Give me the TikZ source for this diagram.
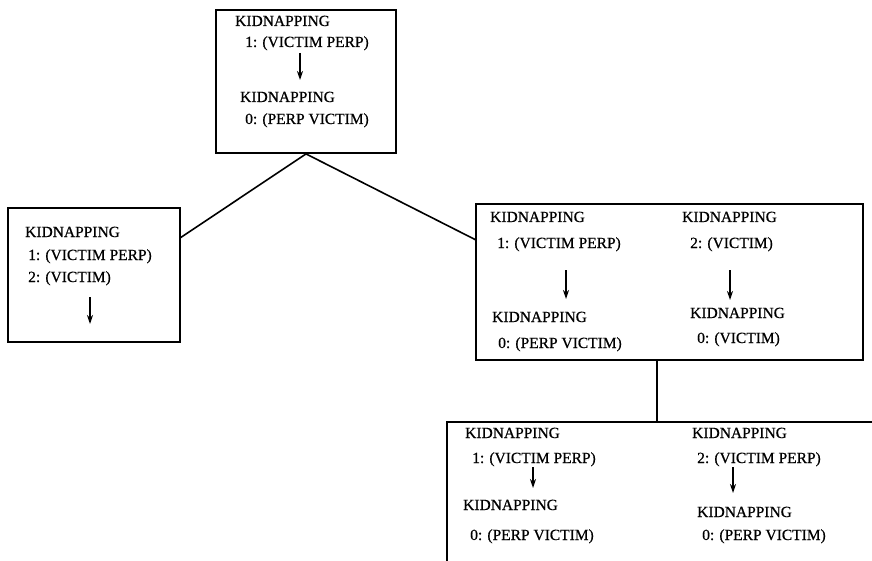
\documentclass[tikz,border=0pt]{standalone}
\usepackage{fontspec}
\setmainfont{Liberation Serif}
\newfontfamily\scanfont[FakeBold=0.6]{Liberation Serif}
\usetikzlibrary{arrows.meta}
\begin{document}
\begin{tikzpicture}[x=1pt,y=-1pt,
  txt/.style={anchor=base west,inner sep=0pt,font=\scanfont\fontsize{15.5}{17}\selectfont},
  boxframe/.style={draw,line width=1.8pt},
  conn/.style={line width=1.6pt},
  down/.style={line width=1.3pt,-{Stealth[length=9pt,width=6pt]}}]
\useasboundingbox (0,0) rectangle (872,561);
% boxes
\node[boxframe,minimum width=180pt,minimum height=143pt,inner sep=0pt] (topbox) at (306,81.5) {};
\node[boxframe,minimum width=172pt,minimum height=134pt,inner sep=0pt] (leftbox) at (94,275) {};
\node[boxframe,minimum width=387pt,minimum height=156pt,inner sep=0pt] (rightbox) at (669.5,282) {};
\coordinate (bbtl) at (447,422);
\coordinate (bbtr) at (872,422);
\coordinate (bbbl) at (447,561);
\draw[line width=1.8pt] (bbtr) -- (bbtl) -- (bbbl);
% connectors
\coordinate (la) at (180,238);
\coordinate (ra) at (476,240);
\coordinate (bt) at (657,422);
\draw[conn] (la) -- (topbox.south) -- (ra);
\draw[conn] (rightbox.south -| bt) -- (bt);
% top box
\node[txt] (t1) at (235,26) {KIDNAPPING};
\node[txt] (t2) at (245,47) {1: (VICTIM PERP)};
\node[txt] (t3) at (240,102) {KIDNAPPING};
\node[txt] (t4) at (245,124) {0: (PERP VICTIM)};
\coordinate (ta1) at (300,53);
\coordinate (ta2) at (300,80);
\draw[down] (ta1) -- (ta2);
% left box
\node[txt] (l1) at (25,237) {KIDNAPPING};
\node[txt] (l2) at (28,260) {1: (VICTIM PERP)};
\node[txt] (l3) at (28,282) {2: (VICTIM)};
\coordinate (la1) at (90,297);
\coordinate (la2) at (90,324);
\draw[down] (la1) -- (la2);
% right box
\node[txt] (r1) at (490,222) {KIDNAPPING};
\node[txt] (r2) at (497,248) {1: (VICTIM PERP)};
\node[txt] (r3) at (492,322) {KIDNAPPING};
\node[txt] (r4) at (498,348) {0: (PERP VICTIM)};
\coordinate (ra1) at (566,270);
\coordinate (ra2) at (566,299);
\draw[down] (ra1) -- (ra2);
\node[txt] (r5) at (682,222) {KIDNAPPING};
\node[txt] (r6) at (690,248) {2: (VICTIM)};
\node[txt] (r7) at (690,318) {KIDNAPPING};
\node[txt] (r8) at (697,343) {0: (VICTIM)};
\coordinate (ra3) at (730,270);
\coordinate (ra4) at (730,300);
\draw[down] (ra3) -- (ra4);
% bottom box
\node[txt] (b1) at (465,438) {KIDNAPPING};
\node[txt] (b2) at (472,463) {1: (VICTIM PERP)};
\node[txt] (b3) at (463,510) {KIDNAPPING};
\node[txt] (b4) at (470,540) {0: (PERP VICTIM)};
\coordinate (ba1) at (533,467);
\coordinate (ba2) at (533,488);
\draw[down] (ba1) -- (ba2);
\node[txt] (b5) at (692,438) {KIDNAPPING};
\node[txt] (b6) at (697,463) {2: (VICTIM PERP)};
\node[txt] (b7) at (697,517) {KIDNAPPING};
\node[txt] (b8) at (702,540) {0: (PERP VICTIM)};
\coordinate (ba3) at (733,467);
\coordinate (ba4) at (733,493);
\draw[down] (ba3) -- (ba4);
\end{tikzpicture}
\end{document}
